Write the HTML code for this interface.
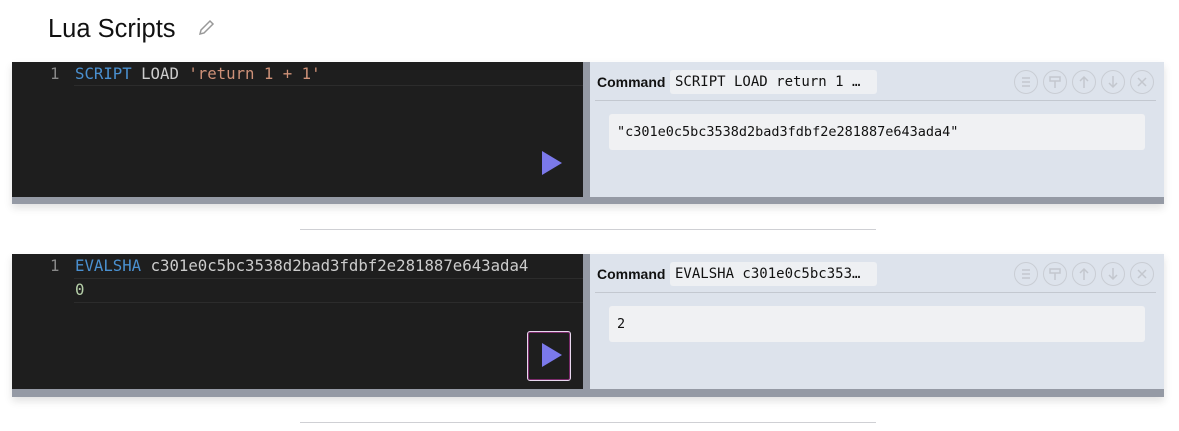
<!DOCTYPE html>
<html><head><style>
body{margin:0;width:1179px;height:431px;background:#fff;position:relative;overflow:hidden;font-family:"Liberation Sans",sans-serif}
.a{position:absolute}
.mono{font-family:"DejaVu Sans Mono","Liberation Mono",monospace;font-size:15.7px;white-space:pre}
.ed{background:#1e1e1e}
.rp{background:#dde3ec}
.bar{background:#959aa5}
.vs{background:#959aa5}
.cmd{font-size:14px;font-weight:bold;color:#111}
.pill{background:#eef0f3;border-radius:3px;font-family:"DejaVu Sans Mono",monospace;font-size:14px;color:#111;line-height:24px;padding-left:5px;box-sizing:border-box}
.res{background:#f0f1f3;border-radius:3px;font-family:"DejaVu Sans Mono",monospace;font-size:13.5px;color:#111;padding-left:8px;box-sizing:border-box;line-height:36px}
.tri{width:0;height:0;border-top:12px solid transparent;border-bottom:12px solid transparent;border-left:20px solid #7b79ea}
.hr{background:#cfd0d4;height:1px}
</style></head><body>
<div class="a" style="left:48px;top:15px;font-size:25.5px;color:#111">Lua Scripts</div>
<svg class="a" style="left:196px;top:18px" width="20" height="20" viewBox="0 0 20 20"><path d="M4 16 L5 12 L14 3 L17 6 L8 15 Z" fill="none" stroke="#999" stroke-width="1.5"/></svg>

<!-- block 1 -->
<div class="a" style="left:12px;top:62px;width:1152px;height:142px;box-shadow:0 4px 8px rgba(0,0,0,0.12)"></div>
<div class="a ed" style="left:12px;top:62px;width:571px;height:135px"></div>
<div class="a" style="left:74px;top:85px;width:509px;height:1px;background:#2c2c2c"></div>
<div class="a mono" style="left:50px;top:63px;line-height:22px;color:#888">1</div>
<div class="a mono" style="left:75px;top:63px;line-height:22px;color:#ccc"><span style="color:#4a90d0">SCRIPT</span> LOAD <span style="color:#ce9178">'return 1 + 1'</span></div>
<div class="a tri" style="left:542px;top:151px"></div>
<div class="a vs" style="left:583px;top:62px;width:7px;height:135px"></div>
<div class="a rp" style="left:590px;top:62px;width:574px;height:135px"></div>
<div class="a bar" style="left:12px;top:197px;width:1152px;height:7px"></div>
<div class="a cmd" style="left:597px;top:74px">Command</div>
<div class="a pill" style="left:670px;top:70px;width:207px;height:24px">SCRIPT LOAD return 1 …</div>
<div class="a" style="left:595px;top:100px;width:561px;height:1px;background:#c3c8d0"></div>
<div class="a res" style="left:609px;top:114px;width:536px;height:36px">"c301e0c5bc3538d2bad3fdbf2e281887e643ada4"</div>
<svg class="a" style="left:1010px;top:68px" width="160" height="30">
<g fill="none" stroke="#c9cdd4" stroke-width="1"><circle cx="16" cy="14" r="11.5"/><circle cx="45" cy="14" r="11.5"/><circle cx="74" cy="14" r="11.5"/><circle cx="103" cy="14" r="11.5"/><circle cx="132" cy="14" r="11.5"/></g>
<g stroke="#c3c7ce" stroke-width="1.5" fill="none"><path d="M12 10h8M12 14h8M12 18h8"/><path d="M40 9h10v4h-10zM45 13v7"/><path d="M74 20v-11M70 13l4-4 4 4"/><path d="M103 8v11M99 15l4 4 4-4"/><path d="M128 10l8 8M136 10l-8 8"/></g></svg>

<div class="a hr" style="left:300px;top:229px;width:576px"></div>

<!-- block 2 -->
<div class="a" style="left:12px;top:254px;width:1152px;height:143px;box-shadow:0 4px 8px rgba(0,0,0,0.12)"></div>
<div class="a ed" style="left:12px;top:254px;width:571px;height:135px"></div>
<div class="a" style="left:74px;top:278px;width:509px;height:1px;background:#2c2c2c"></div>
<div class="a" style="left:74px;top:302px;width:509px;height:1px;background:#2c2c2c"></div>
<div class="a mono" style="left:50px;top:254px;line-height:24px;color:#888">1</div>
<div class="a mono" style="left:75px;top:254px;line-height:24px;color:#ccc"><span style="color:#4a90d0">EVALSHA</span> c301e0c5bc3538d2bad3fdbf2e281887e643ada4
<span style="color:#b5cea8">0</span></div>
<div class="a" style="left:527px;top:331px;width:42px;height:48px;border:1.5px solid #e8d8ef;border-radius:3px;box-shadow:inset 0 0 0 1px #7a2a6a"></div>
<div class="a tri" style="left:542px;top:343px"></div>
<div class="a vs" style="left:583px;top:254px;width:7px;height:135px"></div>
<div class="a rp" style="left:590px;top:254px;width:574px;height:135px"></div>
<div class="a bar" style="left:12px;top:389px;width:1152px;height:8px"></div>
<div class="a cmd" style="left:597px;top:266px">Command</div>
<div class="a pill" style="left:670px;top:262px;width:207px;height:24px">EVALSHA c301e0c5bc353…</div>
<div class="a" style="left:595px;top:292px;width:561px;height:1px;background:#c3c8d0"></div>
<div class="a res" style="left:609px;top:306px;width:536px;height:36px">2</div>
<svg class="a" style="left:1010px;top:260px" width="160" height="30">
<g fill="none" stroke="#c9cdd4" stroke-width="1"><circle cx="16" cy="14" r="11.5"/><circle cx="45" cy="14" r="11.5"/><circle cx="74" cy="14" r="11.5"/><circle cx="103" cy="14" r="11.5"/><circle cx="132" cy="14" r="11.5"/></g>
<g stroke="#c3c7ce" stroke-width="1.5" fill="none"><path d="M12 10h8M12 14h8M12 18h8"/><path d="M40 9h10v4h-10zM45 13v7"/><path d="M74 20v-11M70 13l4-4 4 4"/><path d="M103 8v11M99 15l4 4 4-4"/><path d="M128 10l8 8M136 10l-8 8"/></g></svg>

<div class="a hr" style="left:300px;top:422px;width:576px"></div>
</body></html>
